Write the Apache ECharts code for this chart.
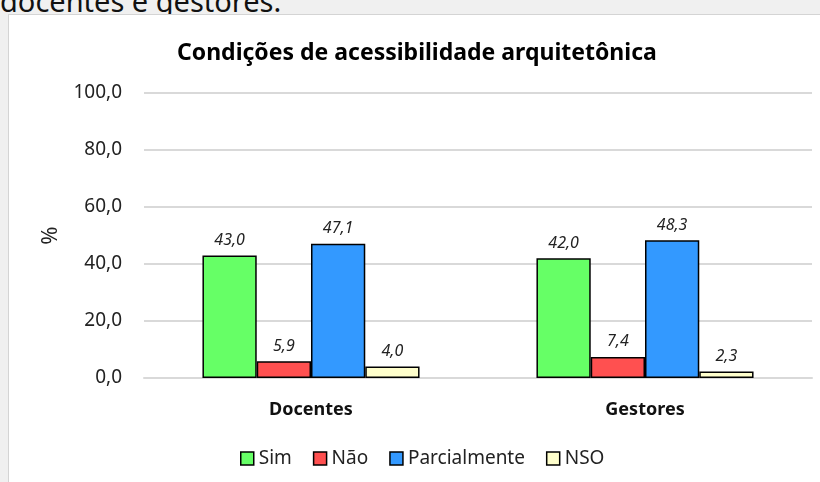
<!DOCTYPE html>
<html>
<head>
<meta charset="utf-8">
<script src="https://cdn.jsdelivr.net/npm/echarts@6/dist/echarts.min.js"></script>
<style>
  html, body { margin: 0; padding: 0; width: 820px; height: 482px; overflow: hidden; background: #f0f0f0; }
  #topText { position: absolute; left: 0; top: -19px; font-family: "Noto Sans", sans-serif; font-size: 29px; color: #111; white-space: nowrap; }
  #chart { position: absolute; left: 8px; top: 14px; width: 812px; height: 468px; background: #fff; border-left: 1px solid #d4d4d4; border-top: 1px solid #d4d4d4; box-sizing: border-box; }
</style>
</head>
<body>
<div id="topText">docentes e gestores.</div>
<div id="chart"></div>
<script>
var categories = ['Docentes', 'Gestores'];
var seriesNames = ['Sim', 'Não', 'Parcialmente', 'NSO'];
var sim = [43.0, 42.0];
var nao = [5.9, 7.4];
var parcialmente = [47.1, 48.3];
var nso = [4.0, 2.3];
var colors = ['#66ff66', '#ff5050', '#3399ff', '#ffffcc'];

var fmt = function (v) { return Number(v).toFixed(1).replace('.', ','); };
var font = '"Noto Sans", sans-serif';

var chart = echarts.init(document.getElementById('chart'));
var allData = [sim, nao, parcialmente, nso];

var series = seriesNames.map(function (name, i) {
  return {
    name: name,
    type: 'bar',
    data: allData[i],
    barGap: '0%',
    barCategoryGap: '35%',
    itemStyle: { color: colors[i], borderColor: '#000', borderWidth: 1.5 },
    label: {
      show: true,
      position: 'top',
      distance: 7,
      fontFamily: font,
      fontSize: 16,
      fontStyle: 'italic',
      color: '#222',
      formatter: function (p) { return fmt(p.value); }
    }
  };
});

chart.setOption({
  animation: false,
  color: colors,
  title: {
    text: 'Condições de acessibilidade arquitetônica',
    left: 163,
    top: 22,
    textStyle: { fontFamily: font, fontSize: 23, fontWeight: 'bold', color: '#000' }
  },
  legend: {
    data: seriesNames,
    bottom: 9,
    left: 226,
    itemWidth: 13,
    itemHeight: 13,
    itemGap: 21,
    icon: 'rect',
    itemStyle: { borderColor: '#000', borderWidth: 1.5 },
    textStyle: { fontFamily: font, fontSize: 19, color: '#222' }
  },
  grid: { left: 135, right: 8, top: 78, bottom: 104 },
  xAxis: {
    type: 'category',
    data: categories,
    axisLine: { lineStyle: { color: '#d9d9d9', width: 2 } },
    axisTick: { show: false },
    axisLabel: { fontFamily: font, fontSize: 18, fontWeight: 'bold', color: '#111', margin: 23 }
  },
  yAxis: {
    type: 'value',
    min: 0,
    max: 100,
    interval: 20,
    name: '%',
    nameLocation: 'middle',
    nameGap: 82,
    nameRotate: 90,
    nameTextStyle: { fontFamily: font, fontSize: 22, color: '#222' },
    axisLine: { show: false },
    axisTick: { show: false },
    splitLine: { lineStyle: { color: '#d9d9d9', width: 2 } },
    axisLabel: { fontFamily: font, fontSize: 19, color: '#222', margin: 22, formatter: fmt }
  },
  series: series
});
</script>
</body>
</html>
